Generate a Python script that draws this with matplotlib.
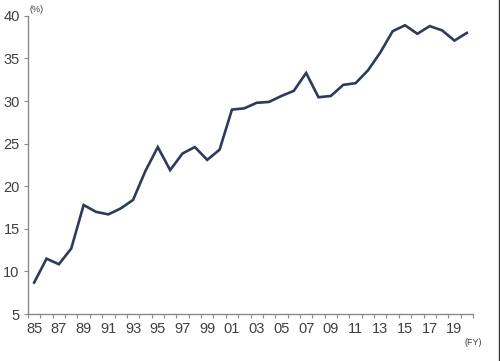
import matplotlib
matplotlib.use("Agg")
import matplotlib.pyplot as plt
from matplotlib.lines import Line2D
import numpy as np

# Daten
jahre = list(range(1985, 2021))
werte = [8.7, 11.5, 10.85, 12.7, 17.8, 17.0, 16.7, 17.4, 18.4, 21.8,
         24.6, 21.9, 23.85, 24.6, 23.1, 24.3, 29.0, 29.15, 29.8, 29.9,
         30.6, 31.2, 33.3, 30.45, 30.6, 31.9, 32.1, 33.6, 35.7, 38.2,
         38.9, 37.9, 38.8, 38.3, 37.1, 38.0]
x_labels = [f"{j % 100:02d}" for j in range(1985, 2021, 2)]
y_ticks = [5, 10, 15, 20, 25, 30, 35, 40]

plt.rcParams["font.family"] = ["Liberation Sans", "DejaVu Sans"]
grau = "#8a8a8a"
text_farbe = "#404040"

fig = plt.figure(figsize=(5, 3.61), dpi=100)
ax = fig.add_axes([0.056, 0.130, 0.890, 0.826])

ax.plot(jahre, werte, color="#2f3a5a", lw=1.9, solid_joinstyle="miter")

ax.set_xlim(1984.5, 2020.5)
ax.set_ylim(5, 40)

ax.set_xticks(list(range(1985, 2021, 2)))
ax.set_xticklabels(x_labels)
ax.set_xticks(np.arange(1984.5, 2021, 1.0), minor=True)
ax.tick_params(axis="x", which="major", length=0, pad=6, labelsize=10.5, labelcolor=text_farbe)
ax.tick_params(axis="x", which="minor", length=3, width=0.8, color=grau, direction="out")

ax.set_yticks(y_ticks)
ax.tick_params(axis="y", length=3, width=0.8, color=grau, direction="out", pad=3,
               labelsize=10.5, labelcolor=text_farbe)

for s in ["top", "right"]:
    ax.spines[s].set_visible(False)
for s in ["left", "bottom"]:
    ax.spines[s].set_color(grau)
    ax.spines[s].set_linewidth(1.0)

fig.text(0.060, 0.962, "(%)", fontsize=6.5, color=text_farbe, ha="left", va="bottom")
fig.text(0.946, 0.052, "(FY)", fontsize=6.5, color=text_farbe, ha="center", va="center")

fig.add_artist(Line2D([0.997, 0.997], [0, 1], transform=fig.transFigure, color="#333333", lw=1.0))

fig.savefig("out.png", dpi=100)
